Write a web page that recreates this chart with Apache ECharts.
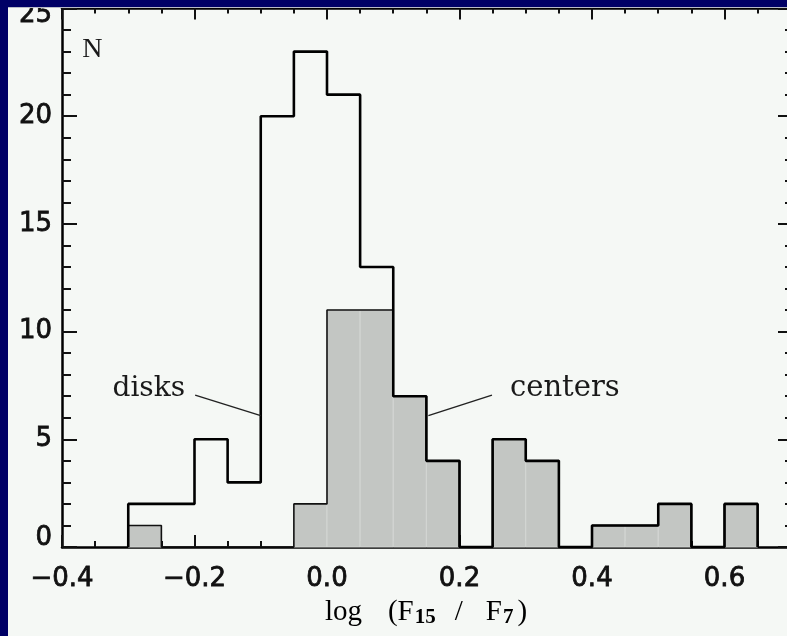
<!DOCTYPE html>
<html><head><meta charset="utf-8">
<script src="https://cdn.jsdelivr.net/npm/echarts@6/dist/echarts.min.js"></script>
<style>html,body{margin:0;padding:0;background:#f5f8f5;}#c{width:787px;height:636px;}</style>
</head><body><div id="c"></div>
<script>
// ---- data ----
const binStarts = [-0.30,-0.25,-0.20,-0.15,-0.10,-0.05,0.00,0.05,0.10,0.15,0.20,0.25,0.30,0.35,0.40,0.45,0.50,0.55,0.60];
const binWidth = 0.05;
const disks   = [2,2,5,3,20,23,21,13,7,4,0,5,4,0,1,1,2,0,2];
const centers = [1,0,0,0,0,2,11,11,7,4,0,5,4,0,1,1,2,0,2];
const xTickValues = [-0.4,-0.2,0.0,0.2,0.4,0.6];
const xTickLabels = ['\u22120.4','\u22120.2','0.0','0.2','0.4','0.6'];
const yTickValues = [0,5,10,15,20,25];
const yTickLabels = ['0','5','10','15','20','25'];
const seriesNames = ['disks','centers'];
const axisTitle = ['log','(F','15','/','F','7',')'];

// annotation anchors (data coordinates)
const notes = [
  {text:'N',       coord:[-0.354, 23.07], font:'Liberation Serif', size:28},
  {text:'disks',   coord:[-0.269, 7.35],  font:'DejaVu Serif', size:28},
  {text:'centers', coord:[0.359, 7.35],   font:'DejaVu Serif', size:29}
];
const leaders = [
  [[-0.199, 7.05], [-0.1, 6.1]],
  [[0.249, 7.05], [0.153, 6.1]]
];

// ---- build ----
function stepData(counts){
  const d = [[binStarts[0], 0]];
  binStarts.forEach((x,i)=>d.push([x, counts[i]]));
  d.push([binStarts[binStarts.length-1]+binWidth, 0]);
  return d;
}
const barData = binStarts.map((x,i)=>[x, x+binWidth, centers[i]]).filter(d=>d[2]>0);

function pick(vals, labels, v){
  for (let i=0;i<vals.length;i++) if (Math.abs(vals[i]-v)<1e-6) return labels[i];
  return '';
}

const tickColor = '#111';
const labelFont = {fontFamily:'DejaVu Sans', fontSize:26, fontWeight:'normal', color:'#111',
  textBorderColor:'#111', textBorderWidth:0.8};
const chart = echarts.init(document.getElementById('c'));
const axisBase = {
  type:'value', splitLine:{show:false}, minorSplitLine:{show:false},
  axisLine:{show:true, onZero:false, lineStyle:{color:'#000', width:2.5}}
};
const T = {fontFamily:'Liberation Serif', fontSize:29, color:'#111', lineHeight:32};
const S = {fontFamily:'Liberation Serif', fontSize:21, fontWeight:'bold', color:'#111', lineHeight:15, verticalAlign:'bottom'};
chart.setOption({
  animation:false,
  backgroundColor:'#f5f8f5',
  grid:{left:62, top:8.5, width:795, height:538.5, containLabel:false, outerBoundsMode:'none'},
  xAxis:[
    Object.assign({}, axisBase, {
      min:-0.4, max:0.8, interval:0.2, position:'bottom',
      axisTick:{show:true, inside:true, length:12, lineStyle:{color:tickColor, width:2}},
      minorTick:{show:true, splitNumber:4, length:6, lineStyle:{color:tickColor, width:2}},
      axisLabel:Object.assign({show:true, showMaxLabel:false, margin:19,
        formatter:v=>pick(xTickValues, xTickLabels, v)}, labelFont)
    }),
    Object.assign({}, axisBase, {
      min:-0.4, max:0.8, interval:0.2, position:'top',
      axisTick:{show:true, inside:true, length:11, lineStyle:{color:tickColor, width:2}},
      minorTick:{show:true, splitNumber:4, length:5, lineStyle:{color:tickColor, width:2}},
      axisLabel:{show:false}
    })
  ],
  yAxis:[
    Object.assign({}, axisBase, {
      min:0, max:25, interval:5, position:'left',
      axisTick:{show:true, inside:true, length:15, lineStyle:{color:tickColor, width:2}},
      minorTick:{show:true, splitNumber:5, length:9, lineStyle:{color:tickColor, width:2}},
      axisLabel:Object.assign({show:true, margin:10,
        formatter:v=>{
          const s = pick(yTickValues, yTickLabels, v);
          if (v===0) return '{lo|'+s+'}';
          if (v===25) return '{hi|'+s+'}';
          return s;
        },
        rich:{
          lo:Object.assign({padding:[0,0,18,0]}, labelFont),
          hi:Object.assign({padding:[14,0,0,0]}, labelFont)
        }}, labelFont)
    }),
    Object.assign({}, axisBase, {
      min:0, max:25, interval:5, position:'right', offset:-66,
      axisTick:{show:true, inside:true, length:13, lineStyle:{color:tickColor, width:2}},
      minorTick:{show:true, splitNumber:5, length:6, lineStyle:{color:tickColor, width:2}},
      axisLabel:{show:false}
    })
  ],
  series:[
    {
      name:seriesNames[1]+' fill', type:'custom', xAxisIndex:0, yAxisIndex:0,
      data:barData, encode:{x:[0,1], y:2}, z:2,
      renderItem:(params, api)=>{
        const p0 = api.coord([api.value(0), api.value(2)]);
        const p1 = api.coord([api.value(1), 0]);
        return {type:'rect', shape:{x:p0[0], y:p0[1], width:p1[0]-p0[0], height:p1[1]-p0[1]},
          style:{fill:'#c3c6c3', stroke:'#d3d6d3', lineWidth:1}};
      }
    },
    {
      name:seriesNames[1], type:'line', step:'end', data:stepData(centers),
      showSymbol:false, symbol:'none', z:3,
      lineStyle:{color:'#111', width:1.6}
    },
    {
      name:seriesNames[0], type:'line', step:'end', data:stepData(disks),
      showSymbol:false, symbol:'none', z:4,
      lineStyle:{color:'#000', width:2.6},
      markPoint:{
        symbol:'circle', symbolSize:1, silent:true,
        itemStyle:{color:'rgba(0,0,0,0)'},
        data:notes.map(n=>({name:n.text, coord:n.coord,
          label:{show:true, position:'inside', formatter:n.text, fontFamily:n.font, fontSize:n.size, color:'#1a1a1a'}}))
      },
      markLine:{
        silent:true, symbol:['none','none'], label:{show:false},
        lineStyle:{color:'#222', width:1.5, type:'solid'},
        data:leaders.map(l=>[{coord:l[0]},{coord:l[1]}])
      }
    }
  ],
  graphic:[
    {type:'text', x:426, y:612, z:50, style:{
      text:'{a|'+axisTitle[0]+'}{b|'+axisTitle[1]+'}{s|'+axisTitle[2]+'}{c|'+axisTitle[3]+'}{d|'+axisTitle[4]+'}{t|'+axisTitle[5]+'}{a|'+axisTitle[6]+'}',
      align:'center', verticalAlign:'middle',
      rich:{
        a:T,
        b:Object.assign({padding:[0,0,0,26]}, T),
        c:Object.assign({padding:[0,0,0,18]}, T),
        d:Object.assign({padding:[0,0,0,23]}, T),
        s:Object.assign({padding:[0,1,0,1]}, S),
        t:Object.assign({padding:[0,4,0,1]}, S)
      }}},
    {type:'rect', z:100, shape:{x:0, y:0, width:787, height:7}, style:{fill:'#000066'}},
    {type:'rect', z:100, shape:{x:0, y:7, width:787, height:1}, style:{fill:'#b9bcc9'}},
    {type:'rect', z:101, shape:{x:0, y:0, width:8, height:636}, style:{fill:'#000066'}}
  ]
});
</script>
</body></html>
